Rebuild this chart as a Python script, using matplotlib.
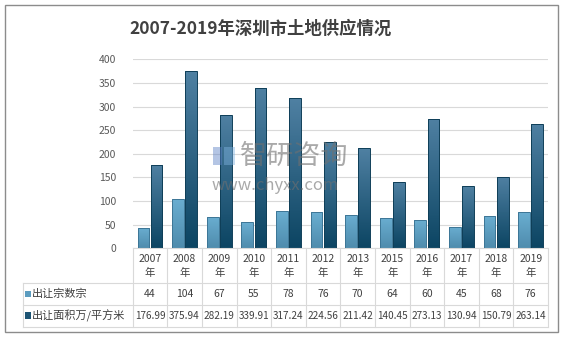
import numpy as np
import matplotlib
matplotlib.use('Agg')
import matplotlib.pyplot as plt
import matplotlib.transforms as mtransforms
from matplotlib.colors import LinearSegmentedColormap
from matplotlib.patches import Rectangle

plt.rcParams['font.family'] = ['Noto Sans CJK SC', 'DejaVu Sans']

# data (2014 is not in the source)
years = ['2007', '2008', '2009', '2010', '2011', '2012', '2013', '2015', '2016', '2017', '2018', '2019']
counts = [44, 104, 67, 55, 78, 76, 70, 64, 60, 45, 68, 76]
areas = [176.99, 375.94, 282.19, 339.91, 317.24, 224.56, 211.42, 140.45, 273.13, 130.94, 150.79, 263.14]
count_labels = ['44', '104', '67', '55', '78', '76', '70', '64', '60', '45', '68', '76']
area_labels = ['176.99', '375.94', '282.19', '339.91', '317.24', '224.56', '211.42',
               '140.45', '273.13', '130.94', '150.79', '263.14']
row_names = ['出让宗数宗', '出让面积万/平方米']
title = '2007-2019年深圳市土地供应情况'

W, H = 562, 337
fig = plt.figure(figsize=(W / 100, H / 100), dpi=100)
ax = fig.add_axes([132.7 / W, 1 - 248.3 / H, (548 - 132.7) / W, (248.3 - 59.3) / H])

light_cmap = LinearSegmentedColormap.from_list('lt', ['#4f8cad', '#6aaed1'])
dark_cmap = LinearSegmentedColormap.from_list('dk', ['#0c4563', '#4f80a2'])
grad = np.linspace(0, 1, 64).reshape(-1, 1)

x = np.arange(len(years))
w = 0.34


def gradient_bars(bars, cmap):
    for b in bars:
        x0, y0 = b.get_x(), b.get_y()
        im = ax.imshow(grad, extent=[x0, x0 + b.get_width(), y0, y0 + b.get_height()],
                       origin='lower', aspect='auto', cmap=cmap, zorder=2.5)
        im.set_clip_path(b)


b1 = ax.bar(x - 0.19, counts, w, facecolor='none', edgecolor='#3d7696', lw=0.7, zorder=3)
b2 = ax.bar(x + 0.19, areas, w, facecolor='none', edgecolor='#0f3f58', lw=0.7, zorder=3)
gradient_bars(b1, light_cmap)
gradient_bars(b2, dark_cmap)

ax.set_xlim(-0.5, len(years) - 0.5)
ax.set_ylim(0, 400)
ax.set_yticks(np.arange(0, 401, 50))
ax.set_xticks([])
ax.grid(axis='y', color='#d9d9d9', lw=0.8, zorder=0)
ax.set_axisbelow(True)
for s in ['top', 'right', 'left']:
    ax.spines[s].set_visible(False)
ax.spines['bottom'].set_color('#d9d9d9')
ax.tick_params(axis='y', length=0, pad=12, labelsize=7.5, labelcolor='#595959')

# data table under the axis
trans = mtransforms.blended_transform_factory(ax.transData, ax.transAxes)
line_kw = dict(transform=trans, clip_on=False, color='#d9d9d9', lw=0.8)
left = -3.67
y_head, y_r1, y_r2 = -0.184, -0.30, -0.414
for i in range(len(years) + 1):
    ax.plot([i - 0.5, i - 0.5], [0, y_r2], **line_kw)
ax.plot([left, left], [y_head, y_r2], **line_kw)
for yy in [y_head, y_r1, y_r2]:
    ax.plot([left, len(years) - 0.5], [yy, yy], **line_kw)

txt_kw = dict(transform=trans, ha='center', va='center', color='#404040', clip_on=False)
for i, yr in enumerate(years):
    ax.text(i, y_head / 2, yr + '\n年', fontsize=7.5, linespacing=1.5, **txt_kw)
    ax.text(i, (y_head + y_r1) / 2, count_labels[i], fontsize=7.5, **txt_kw)
    ax.text(i, (y_r1 + y_r2) / 2, area_labels[i], fontsize=7.2, **txt_kw)

for name, yy, col in [(row_names[0], (y_head + y_r1) / 2, '#5b9cbf'),
                      (row_names[1], (y_r1 + y_r2) / 2, '#1d5474')]:
    ax.add_patch(Rectangle((left + 0.07, yy - 0.018), 0.16, 0.036, transform=trans,
                           facecolor=col, edgecolor='none', clip_on=False))
    ax.text(left + 0.26, yy, name, fontsize=8, color='#404040', transform=trans,
            ha='left', va='center', clip_on=False)

# title
fig.text(261 / W, 1 - 29 / H, title, fontsize=12.5, fontweight='bold',
         color='#404040', ha='center', va='center')

# watermark
fig.patches.append(Rectangle((213 / W, 1 - 165 / H), 9 / W, 18 / H, transform=fig.transFigure,
                             facecolor='#5a7fc4', alpha=0.45, zorder=5))
fig.patches.append(Rectangle((224 / W, 1 - 165 / H), 11 / W, 18 / H, transform=fig.transFigure,
                             facecolor='#7fb3e0', alpha=0.45, zorder=5))
fig.text(240 / W, 1 - 156 / H, '智研咨询', fontsize=19.5, color='#707070', alpha=0.6,
         ha='left', va='center', zorder=5)
fig.text(212 / W, 1 - 185 / H, 'www.chyxx.com', fontsize=12, color='#707070', alpha=0.6,
         ha='left', va='center', zorder=5)

# chart border
fig.patches.append(Rectangle((4.5 / W, 1 - 332 / H), 553 / W, 327.5 / H, transform=fig.transFigure,
                             fill=False, edgecolor='#8c8c8c', lw=1))

fig.savefig('out.png', dpi=100)
